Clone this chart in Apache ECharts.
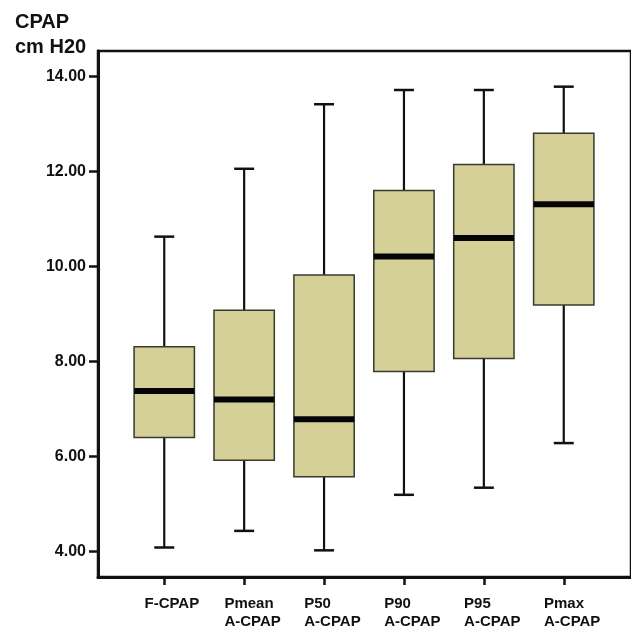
<!DOCTYPE html>
<html>
<head>
<meta charset="utf-8">
<style>html,body{margin:0;padding:0;background:#fff;}#c{width:631px;height:631px;}</style>
<script src="https://cdn.jsdelivr.net/npm/echarts@6/dist/echarts.min.js"></script>
</head>
<body>
<div id="c"></div>
<script>
const categories = ['F-CPAP', 'Pmean\nA-CPAP', 'P50\nA-CPAP', 'P90\nA-CPAP', 'P95\nA-CPAP', 'Pmax\nA-CPAP'];
const whiskerLow  = [4.08, 4.43, 4.02, 5.19, 5.34, 6.28];
const quartile1   = [6.40, 5.92, 5.57, 7.79, 8.06, 9.19];
const medians     = [7.38, 7.20, 6.78, 10.21, 10.60, 11.31];
const quartile3   = [8.31, 9.08, 9.82, 11.60, 12.15, 12.81];
const whiskerHigh = [10.63, 12.06, 13.42, 13.72, 13.72, 13.79];
const yTicks = [4, 6, 8, 10, 12, 14];

const chart = echarts.init(document.getElementById('c'), null, {renderer: 'canvas'});

const boxData = categories.map((c, i) => [i, whiskerLow[i], quartile1[i], medians[i], quartile3[i], whiskerHigh[i]]);
const labelShift = 20 / 80.8;

chart.setOption({
  backgroundColor: '#fff',
  animation: false,
  title: {
    text: 'CPAP\ncm H20',
    left: 15, top: 10, padding: 0,
    textStyle: {fontFamily: 'Liberation Sans', fontWeight: 'bold', fontSize: 20, lineHeight: 25, color: '#111'}
  },
  grid: {
    left: 98, top: 51, right: -6, bottom: 48,
    show: true, borderColor: '#111', borderWidth: 2.5, backgroundColor: 'transparent'
  },
  xAxis: {
    type: 'value',
    min: -0.8292, max: 5.8416,
    splitLine: {show: false},
    axisLine: {show: true, onZero: false, lineStyle: {color: '#111', width: 3}},
    axisTick: {show: true, length: 8, inside: false, customValues: categories.map((c, i) => i), lineStyle: {color: '#111', width: 2.5}},
    axisLabel: {
      show: true,
      customValues: categories.map((c, i) => i - labelShift),
      align: 'left',
      margin: 18,
      fontFamily: 'Liberation Sans', fontWeight: 'bold', fontSize: 15, lineHeight: 18, color: '#111',
      formatter: v => categories[Math.round(v + labelShift)]
    }
  },
  yAxis: {
    type: 'value',
    min: 4 - 26 / 48, max: 14 + 26 / 48,
    splitLine: {show: false},
    axisLine: {show: true, onZero: false, lineStyle: {color: '#111', width: 3}},
    axisTick: {show: true, length: 9, customValues: yTicks, lineStyle: {color: '#111', width: 2.5}},
    axisLabel: {
      show: true, customValues: yTicks, margin: 12,
      fontFamily: 'Liberation Sans', fontWeight: 'bold', fontSize: 16, color: '#111',
      formatter: v => Number(v).toFixed(2)
    }
  },
  series: [{
    type: 'custom',
    data: boxData,
    encode: {x: 0, y: [1, 2, 3, 4, 5]},
    clip: false,
    renderItem: function (params, api) {
      const x = api.value(0);
      const lo = api.coord([x, api.value(1)]);
      const b1 = api.coord([x, api.value(2)]);
      const md = api.coord([x, api.value(3)]);
      const b3 = api.coord([x, api.value(4)]);
      const hi = api.coord([x, api.value(5)]);
      const unit = api.size([1, 0])[0];
      const bw = unit * 0.755;
      const cw = unit * 0.25;
      const cx = lo[0];
      const lineStyle = {stroke: '#111', lineWidth: 2.2};
      return {
        type: 'group',
        children: [
          {type: 'line', shape: {x1: cx, y1: lo[1], x2: cx, y2: b1[1]}, style: lineStyle},
          {type: 'line', shape: {x1: cx, y1: b3[1], x2: cx, y2: hi[1]}, style: lineStyle},
          {type: 'line', shape: {x1: cx - cw / 2, y1: lo[1], x2: cx + cw / 2, y2: lo[1]}, style: {stroke: '#111', lineWidth: 2.5}},
          {type: 'line', shape: {x1: cx - cw / 2, y1: hi[1], x2: cx + cw / 2, y2: hi[1]}, style: {stroke: '#111', lineWidth: 2.5}},
          {type: 'rect', shape: {x: cx - bw / 2, y: b3[1], width: bw, height: b1[1] - b3[1]}, style: {fill: '#d4d098', stroke: '#3a3a2c', lineWidth: 1.5}},
          {type: 'rect', shape: {x: cx - bw / 2, y: md[1] - 3, width: bw, height: 6}, style: {fill: '#050505'}}
        ]
      };
    }
  }]
});
</script>
</body>
</html>
